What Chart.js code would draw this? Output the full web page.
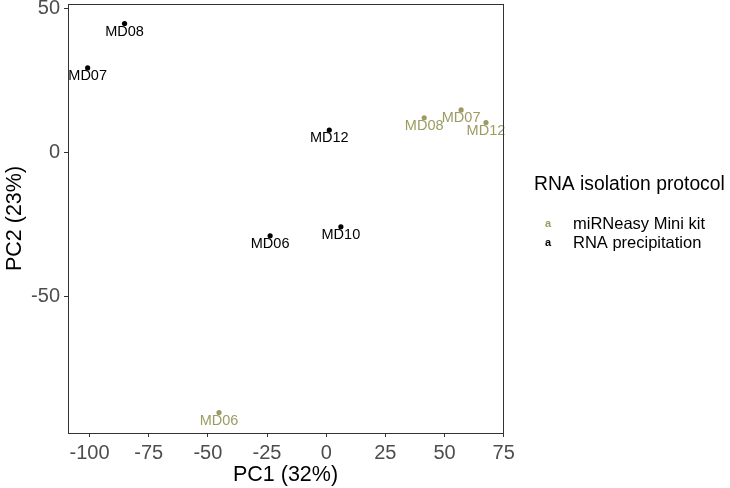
<!DOCTYPE html>
<html>
<head>
<meta charset="utf-8">
<script src="https://cdn.jsdelivr.net/npm/chart.js@4"></script>
<style>
  html, body { margin: 0; padding: 0; background: #fff; }
</style>
</head>
<body>
<canvas id="pca" width="730" height="488"></canvas>
<script>
const groups = ['miRNeasy Mini kit', 'RNA precipitation'];
const groupColors = ['#9c9c62', '#000000'];

const kitLabels = ['MD06', 'MD07', 'MD08', 'MD12'];
const kitPC1 = [-45.3, 57.0, 41.4, 67.5];
const kitPC2 = [-90.3, 14.8, 12.1, 10.4];

const precLabels = ['MD06', 'MD07', 'MD08', 'MD10', 'MD12'];
const precPC1 = [-23.7, -100.8, -85.2, 6.2, 1.3];
const precPC2 = [-28.9, 29.4, 44.8, -25.8, 7.8];

const xTicks = [-100, -75, -50, -25, 0, 25, 50, 75];
const yTicks = [-50, 0, 50];

const FONT = "'Liberation Sans', Arial, sans-serif";

function toPoints(xs, ys, names) {
    return xs.map((x, i) => ({ x: x, y: ys[i], name: names[i] }));
}

// sample names under each point, in the series colour
const pointLabels = {
    id: 'pointLabels',
    afterDatasetsDraw(chart) {
        const ctx = chart.ctx;
        ctx.save();
        ctx.font = '14.5px ' + FONT;
        ctx.textAlign = 'center';
        ctx.textBaseline = 'middle';
        chart.data.datasets.forEach((ds, di) => {
            const meta = chart.getDatasetMeta(di);
            ctx.fillStyle = ds.backgroundColor;
            meta.data.forEach((el, i) => {
                ctx.fillText(ds.data[i].name, el.x, el.y + 8);
            });
        });
        ctx.restore();
    }
};

// box around the panel + legend on the right
const panelAndLegend = {
    id: 'panelAndLegend',
    afterDraw(chart) {
        const ctx = chart.ctx;
        const a = chart.chartArea;
        ctx.save();
        ctx.strokeStyle = '#333333';
        ctx.lineWidth = 1;
        ctx.strokeRect(Math.round(a.left) + 0.5, Math.round(a.top) + 0.5,
            Math.round(a.right - a.left), Math.round(a.bottom - a.top));

        ctx.fillStyle = '#000';
        ctx.textAlign = 'left';
        ctx.textBaseline = 'middle';
        ctx.font = '19.3px ' + FONT;
        ctx.fillText('RNA isolation protocol', 534, 185);
        groups.forEach((g, i) => {
            const y = 224 + i * 19;
            ctx.fillStyle = groupColors[i];
            ctx.textAlign = 'center';
            ctx.font = 'bold 11px ' + FONT;
            ctx.fillText('a', 548, y);
            ctx.fillStyle = '#000';
            ctx.textAlign = 'left';
            ctx.font = '16.5px ' + FONT;
            ctx.fillText(g, 573, y);
        });
        ctx.restore();
    }
};

const ctx = document.getElementById('pca').getContext('2d');
const chart = new Chart(ctx, {
    type: 'scatter',
    data: {
        datasets: [
            {
                label: groups[0],
                data: toPoints(kitPC1, kitPC2, kitLabels),
                backgroundColor: groupColors[0],
                borderColor: groupColors[0],
                pointRadius: 2.6,
                borderWidth: 0
            },
            {
                label: groups[1],
                data: toPoints(precPC1, precPC2, precLabels),
                backgroundColor: groupColors[1],
                borderColor: groupColors[1],
                pointRadius: 2.6,
                borderWidth: 0
            }
        ]
    },
    options: {
        responsive: false,
        animation: false,
        layout: { padding: { left: 0, top: 4, right: 227, bottom: 0 } },
        plugins: {
            legend: { display: false },
            tooltip: { enabled: false }
        },
        scales: {
            x: {
                type: 'linear',
                min: -109.1,
                max: 74.7,
                afterBuildTicks: s => { s.ticks = xTicks.map(v => ({ value: v })); },
                afterFit: s => { s.height = 55; s.paddingLeft = 0; s.paddingRight = 0; },
                grid: { drawOnChartArea: false, drawTicks: true, tickLength: 4, color: '#333333' },
                border: { display: true, color: '#333333' },
                ticks: { color: '#4d4d4d', font: { size: 20, family: FONT }, padding: 4, maxRotation: 0 },
                title: { display: true, text: 'PC1 (32%)', color: '#000', font: { size: 21.5, family: FONT }, padding: { top: 0, bottom: 0 } }
            },
            y: {
                type: 'linear',
                min: -97.4,
                max: 51.6,
                afterBuildTicks: s => { s.ticks = yTicks.map(v => ({ value: v })); },
                afterFit: s => { s.width = 68; s.paddingTop = 0; s.paddingBottom = 0; },
                grid: { drawOnChartArea: false, drawTicks: true, tickLength: 4, color: '#333333' },
                border: { display: true, color: '#333333' },
                ticks: { color: '#4d4d4d', font: { size: 20, family: FONT }, padding: 4 },
                title: { display: true, text: 'PC2 (23%)', color: '#000', font: { size: 21.5, family: FONT }, padding: { top: 2, bottom: 0 } }
            }
        }
    },
    plugins: [pointLabels, panelAndLegend]
});
</script>
</body>
</html>
